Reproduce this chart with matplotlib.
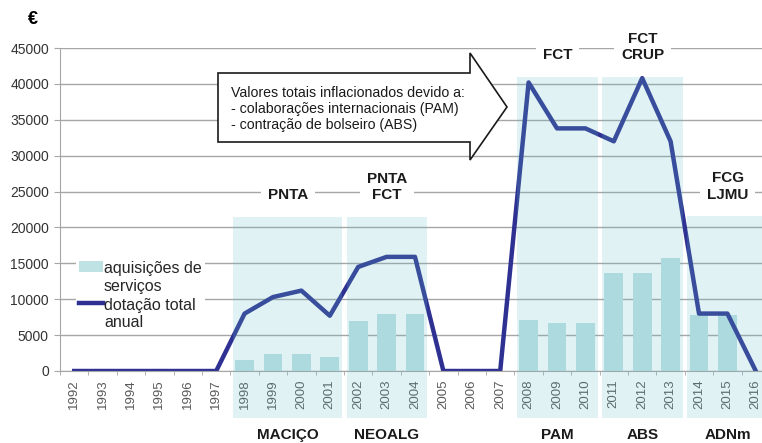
import matplotlib
matplotlib.use("Agg")
import matplotlib.pyplot as plt
from matplotlib.patches import Rectangle, Polygon
import numpy as np

plt.rcParams['font.family'] = ['Liberation Sans', 'DejaVu Sans']

anos = ["1992", "1993", "1994", "1995", "1996", "1997", "1998", "1999",
        "2000", "2001", "2002", "2003", "2004", "2005", "2006", "2007",
        "2008", "2009", "2010", "2011", "2012", "2013", "2014", "2015", "2016"]

# dotação total anual (linha)
dotacao = [0, 0, 0, 0, 0, 0, 8000, 10300, 11200, 7700, 14500, 15900,
           15900, 0, 0, 0, 40200, 33800, 33800, 32000, 40800, 32000,
           8000, 8000, 0]

# aquisições de serviços (barras)
aquisicoes = [0, 0, 0, 0, 0, 0, 1500, 2400, 2400, 1900, 7000, 7900,
              7900, 0, 0, 0, 7100, 6700, 6700, 13600, 13600, 15800,
              7800, 7800, 0]

# projetos / financiadores
projetos = ["MACIÇO", "NEOALG", "PAM", "ABS", "ADNm"]
proj_inicio = ["1998", "2002", "2008", "2011", "2014"]
proj_fim = ["2001", "2004", "2010", "2013", "2016"]
proj_topo = [21500, 21500, 41000, 41000, 21600]
financiadores = ["PNTA", "PNTA\nFCT", "FCT", "FCT\nCRUP", "FCG\nLJMU"]

nota = ("Valores totais inflacionados devido a:\n"
        "- colaborações internacionais (PAM)\n"
        "- contração de bolseiro (ABS)")

COR_LINHA = '#2e3192'
COR_BARRA = '#bfe2e5'
COR_GRID = '#a6a6a6'
W, H = 762, 443

fig = plt.figure(figsize=(W / 100, H / 100), dpi=100)
ax = fig.add_axes([60 / W, 72 / H, 710 / W, 323 / H])

x = np.arange(len(anos))
barras = ax.bar(x, aquisicoes, width=0.66, color=COR_BARRA, zorder=1)
linha, = ax.plot(x, dotacao, color=COR_LINHA, lw=3.2, zorder=2,
                 solid_joinstyle='round')

ax.set_xlim(-0.5, len(anos) - 0.5)
ax.set_ylim(0, 45000)
ax.set_yticks(range(0, 45001, 5000))
ax.yaxis.grid(True, color=COR_GRID, lw=1)
ax.set_axisbelow(True)
for s in ['top', 'right']:
    ax.spines[s].set_visible(False)
for s in ['left', 'bottom']:
    ax.spines[s].set_color(COR_GRID)

ax.set_xticks(x)
ax.set_xticklabels(anos, rotation=90, fontsize=9.5, color='#595959')
ax.set_xticks(np.arange(-0.5, len(anos)), minor=True)
ax.tick_params(axis='x', which='major', length=0, pad=6)
ax.tick_params(axis='x', which='minor', length=3, color=COR_GRID)
ax.tick_params(axis='y', length=4, color=COR_GRID, labelsize=10,
               labelcolor='#333333', pad=4)

# faixas dos projetos
for nome, ini, fim, topo, fin in zip(projetos, proj_inicio, proj_fim,
                                     proj_topo, financiadores):
    i0 = anos.index(ini)
    i1 = anos.index(fim)
    x0 = i0 - 0.41
    x1 = i1 + 0.44
    ax.add_patch(Rectangle((x0, -6550), x1 - x0, topo + 6550,
                           facecolor='#64bec8', alpha=0.2,
                           edgecolor='none', zorder=3, clip_on=False))
    xc = (x0 + x1) / 2
    ax.text(xc, topo + 2000, fin, ha='center', va='bottom', fontsize=11,
            fontweight='bold', color='#1a1a1a', zorder=4,
            bbox=dict(facecolor='white', edgecolor='none', pad=5))
    ax.text(xc, -8900, nome, ha='center', va='center', fontsize=11,
            fontweight='bold', color='#1a1a1a')

leg = ax.legend([barras, linha],
                ["aquisições de\nserviços", "dotação total\nanual"],
                loc='upper left', bbox_to_anchor=(76 / W, 1 - 258 / H),
                bbox_transform=fig.transFigure, fontsize=11.5,
                handlelength=1.5, handletextpad=0.05, borderpad=0.2,
                labelspacing=0.25, borderaxespad=0, fancybox=False,
                framealpha=1)
leg.get_frame().set_edgecolor('none')
for t in leg.get_texts():
    t.set_color('#262626')
for col in leg._legend_handle_box.get_children():
    for item in col.get_children():
        item.align = 'top'

# seta com nota
seta = [(218, 73), (470, 73), (470, 53), (507, 107), (470, 160),
        (470, 142), (218, 142)]
seta = [(px / W, 1 - py / H) for px, py in seta]
fig.add_artist(Polygon(seta, closed=True, facecolor='white',
                       edgecolor='#1a1a1a', lw=1.2,
                       transform=fig.transFigure, zorder=5))
fig.text(231 / W, 1 - 109 / H, nota, ha='left', va='center', fontsize=10.2,
         linespacing=1.2, color='#1a1a1a', zorder=6)

fig.text(33 / W, 1 - 20 / H, '€', ha='center', va='center', fontsize=13,
         fontweight='bold')

fig.savefig('out.png', dpi=100)
